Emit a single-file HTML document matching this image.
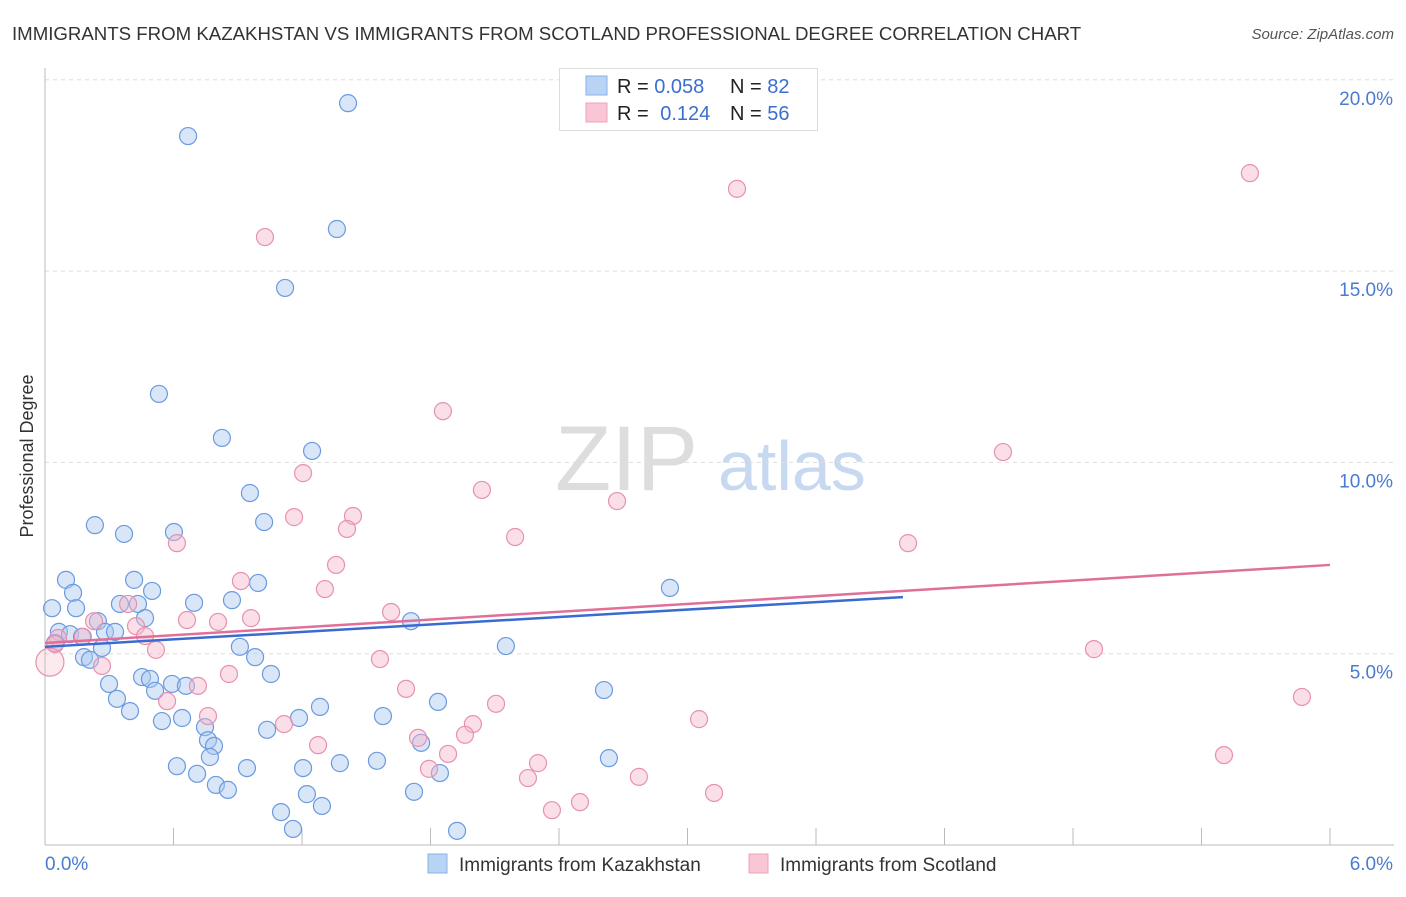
<!DOCTYPE html>
<html><head><meta charset="utf-8"><style>
body{margin:0;background:#fff;font-family:"Liberation Sans",sans-serif;}
svg text{font-family:"Liberation Sans",sans-serif;}
</style></head><body>
<svg id="chart" width="1406" height="892" xmlns="http://www.w3.org/2000/svg">
<text x="12" y="40" font-size="18.65" fill="#333">IMMIGRANTS FROM KAZAKHSTAN VS IMMIGRANTS FROM SCOTLAND PROFESSIONAL DEGREE CORRELATION CHART</text>
<text x="1394" y="39" font-size="15" font-style="italic" fill="#555" text-anchor="end">Source: ZipAtlas.com</text>
<text transform="translate(33,456) rotate(-90)" font-size="18" fill="#333" text-anchor="middle">Professional Degree</text>
<g>
<text x="555" y="490" font-size="92" font-family="Liberation Serif" fill="#ddd">ZIP</text>
<text x="718" y="490" font-size="70" fill="#c7d9f1">atlas</text>
</g>
<g id="grid"></g><g id="axes"></g><g id="points"></g><g id="lines"></g>
<g>
<rect x="559.5" y="68.5" width="258" height="62" fill="#fff" stroke="#ddd"/>
<rect x="586" y="76" width="21" height="19" fill="#b9d3f5" stroke="#8ab0e8"/>
<rect x="586" y="103" width="21" height="19" fill="#f9c6d5" stroke="#efa3bb"/>
<text x="617" y="93" font-size="20" fill="#222">R = <tspan fill="#3a6fd0">0.058</tspan></text>
<text x="730" y="93" font-size="20" fill="#222">N = <tspan fill="#3a6fd0">82</tspan></text>
<text x="617" y="120" font-size="20" fill="#222">R = <tspan fill="#3a6fd0" dx="6">0.124</tspan></text>
<text x="730" y="120" font-size="20" fill="#222">N = <tspan fill="#3a6fd0">56</tspan></text>
</g>
<g>
<rect x="428" y="854" width="19" height="19" fill="#b9d3f5" stroke="#8ab0e8"/>
<text x="459" y="871" font-size="19" fill="#333">Immigrants from Kazakhstan</text>
<rect x="749" y="854" width="19" height="19" fill="#f9c6d5" stroke="#efa3bb"/>
<text x="780" y="871" font-size="19" fill="#333">Immigrants from Scotland</text>
</g>
</svg>
<script>
const yTicks=[5,10,15,20];
const yTickLabels=["5.0%","10.0%","15.0%","20.0%"];
const xTickLabels=["0.0%","6.0%"];
const blueX=[1.415,0.668,1.363,1.121,0.532,0.826,1.247,0.957,1.023,0.233,0.369,0.602,2.918,0.098,0.416,0.995,0.131,0.500,0.033,0.145,0.350,0.434,0.696,0.873,0.247,0.467,1.709,0.065,0.117,0.280,0.327,0.173,0.047,0.910,0.266,2.152,0.182,0.210,0.981,1.055,0.453,0.490,0.593,0.658,0.299,0.514,2.610,0.336,1.835,0.397,1.284,1.578,0.640,0.546,1.186,0.747,1.037,0.761,0.789,1.756,0.770,2.633,1.550,1.377,0.616,0.943,1.205,0.710,1.844,0.798,0.854,1.723,1.223,1.293,1.102,1.158,1.924];
const blueY=[19.39,18.53,16.10,14.56,11.79,10.64,10.30,9.20,8.44,8.36,8.13,8.18,6.72,6.93,6.93,6.85,6.59,6.64,6.19,6.19,6.30,6.30,6.33,6.40,5.85,5.93,5.85,5.57,5.51,5.57,5.57,5.44,5.28,5.18,5.15,5.20,4.91,4.84,4.91,4.47,4.39,4.34,4.21,4.16,4.21,4.03,4.05,3.82,3.74,3.50,3.61,3.37,3.32,3.24,3.32,3.08,3.01,2.74,2.59,2.67,2.30,2.27,2.20,2.14,2.06,2.01,2.01,1.86,1.88,1.57,1.44,1.39,1.33,1.02,0.86,0.42,0.37];
const pinkX=[5.626,3.231,1.027,1.858,4.473,1.205,2.040,2.671,1.163,1.438,1.410,2.195,0.616,4.030,1.359,0.915,1.307,1.616,0.229,0.388,0.663,0.808,0.962,0.425,0.467,0.518,0.177,0.061,0.047,0.023,0.266,1.564,4.898,0.859,0.714,1.686,0.570,5.869,2.106,0.761,1.116,1.998,3.054,1.961,1.742,1.275,1.882,2.302,1.793,5.505,2.773,2.255,2.498,3.124,2.367];
const pinkY=[17.56,17.15,15.89,11.34,10.27,9.72,9.28,8.99,8.57,8.60,8.26,8.05,7.89,7.89,7.32,6.90,6.69,6.09,5.85,6.30,5.88,5.83,5.93,5.72,5.46,5.10,5.44,5.41,5.25,4.78,4.68,4.86,5.12,4.47,4.16,4.08,3.76,3.87,3.69,3.37,3.16,3.16,3.29,2.88,2.80,2.61,2.38,2.14,1.99,2.35,1.78,1.75,1.12,1.36,0.91];
const blueTrend=[0,5.18,4.006,6.48];
const pinkTrend=[0,5.28,6,7.32];
const NS="http://www.w3.org/2000/svg";
const X0=45,X1=1330,YB=845,PX5=191.3;
const xs=v=>X0+v/6*(X1-X0);
const ys=v=>YB-v/5*PX5;
function mk(tag,attrs,parent){const e=document.createElementNS(NS,tag);for(const k in attrs)e.setAttribute(k,attrs[k]);document.getElementById(parent).appendChild(e);return e;}
yTicks.forEach((t,i)=>{
 const g=mk('line',{x1:X0,x2:1394,y1:ys(t),y2:ys(t),stroke:'#ddd','stroke-dasharray':'4,4'},'grid');
 
 
 const l=mk('text',{x:1393,y:ys(t)+25,'font-size':19,fill:'#4a7bd0','text-anchor':'end'},'axes');
 l.textContent=yTickLabels[i];
 
 
});
const ax=mk('line',{x1:X0,x2:X0,y1:68,y2:YB,stroke:'#bbb'},'axes');


const bx=mk('line',{x1:X0,x2:1394,y1:YB,y2:YB,stroke:'#bbb'},'axes');


for(let i=0;i<=10;i++){const t=mk('line',{x1:xs(i*0.6),x2:xs(i*0.6),y1:828,y2:YB,stroke:'#bbb'},'axes');
 
 }
[[0,'start',45],[6,'end',1393]].forEach((d,i)=>{const t=mk('text',{x:d[2],y:870,'font-size':19,fill:'#4a7bd0','text-anchor':d[1]},'axes');t.textContent=xTickLabels[i];
 
 });
function pts(X,Y,fill,stroke,name){X.forEach((x,i)=>{const big=(x<0.03&&name==='scotland');const c=mk('circle',{cx:xs(x),cy:ys(Y[i]),r:big?14:8.5,fill:fill,'fill-opacity':big?0.3:0.45,stroke:stroke,'stroke-width':1.2},'points');
 
 });}
pts(blueX,blueY,'#a9c8ef','#6a9ae0','kazakhstan');
pts(pinkX,pinkY,'#f5b8cb','#e891ad','scotland');
const bl=mk('line',{x1:xs(blueTrend[0]),y1:ys(blueTrend[1]),x2:xs(blueTrend[2]),y2:ys(blueTrend[3]),stroke:'#3a6bd0','stroke-width':2.5},'lines');


const pl=mk('line',{x1:xs(pinkTrend[0]),y1:ys(pinkTrend[1]),x2:xs(pinkTrend[2]),y2:ys(pinkTrend[3]),stroke:'#e0709a','stroke-width':2.5},'lines');


</script>
</body></html>
